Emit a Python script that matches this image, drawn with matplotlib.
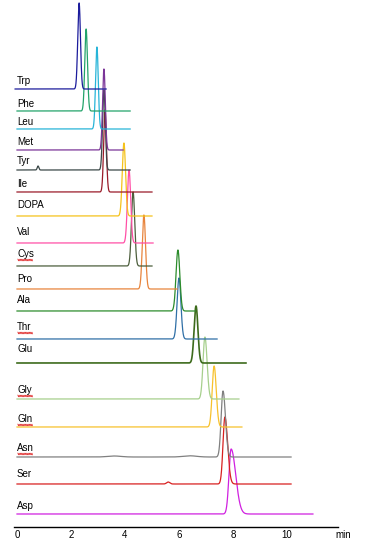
import numpy as np
import matplotlib
matplotlib.use("Agg")
from matplotlib import pyplot as plt

plt.rcParams['font.family'] = ['Liberation Sans', 'DejaVu Sans']

# amino acids, top to bottom
names = ["Trp", "Phe", "Leu", "Met", "Tyr", "Ile", "DOPA", "Val", "Cys", "Pro",
         "Ala", "Thr", "Glu", "Gly", "Gln", "Asn", "Ser", "Asp"]
# retention time of the main peak (min)
rt = [2.30, 2.56, 2.96, 3.22, 3.22, 3.26, 3.96, 4.15, 4.30, 4.70,
      5.96, 6.00, 6.63, 6.96, 7.30, 7.63, 7.70, 7.93]
# peak height (signal units)
height = [86, 82, 82, 81, 80, 82, 73, 73, 74, 74,
          61, 61, 57, 62, 61, 66, 67, 65]
# peak width, left / right sigma (min)
sig_l = [0.05, 0.05, 0.05, 0.05, 0.05, 0.05, 0.06, 0.06, 0.06, 0.06,
         0.07, 0.07, 0.07, 0.07, 0.07, 0.07, 0.07, 0.08]
sig_r = [0.05, 0.05, 0.05, 0.05, 0.05, 0.05, 0.06, 0.06, 0.06, 0.06,
         0.07, 0.07, 0.07, 0.08, 0.08, 0.09, 0.10, 0.17]
# recorded time range (min)
t_end = [3.30, 4.19, 4.19, 3.93, 4.19, 5.00, 5.00, 5.04, 5.00, 5.93,
         6.59, 7.41, 8.48, 8.22, 8.33, 10.15, 10.15, 10.96]
# small side peaks: (trace, time, height, width)
minor = [("Tyr", 0.78, 4, 0.03), ("Asn", 3.6, 1.0, 0.25), ("Asn", 6.4, 1.2, 0.25),
         ("Ser", 5.6, 2.0, 0.06)]

# stacking offset of each baseline
offset = [438, 416, 398, 377, 357, 335, 311, 284, 261, 238,
          216, 188, 164, 128, 100, 70, 43, 13]
label_dy = [8, 7, 7, 8, 9, 8, 11, 11, 12, 10, 11, 12, 14, 9, 8, 9, 10, 8]

colors = ["#1c1c9c", "#22a36a", "#27b4d8", "#7b3598", "#3b4848", "#9a1a28",
          "#f5c21b", "#ff4fa6", "#4c5e3c", "#e8843c", "#2c8c2c", "#2f6fa6",
          "#3d6b1c", "#a6cf8c", "#f7c12c", "#808080", "#d82020", "#d020e0"]
wavy = ["Cys", "Thr", "Gly", "Gln", "Asn"]

fig = plt.figure(figsize=(3.77, 5.45), dpi=100)
ax = fig.add_axes([14.3 / 377, 18 / 545, 324 / 377, 527 / 545])

for i, name in enumerate(names):
    t = np.linspace(0, t_end[i], 3000)
    if name == "Trp":
        t = np.linspace(-0.07, t_end[i], 3000)
    s = np.where(t < rt[i], sig_l[i], sig_r[i])
    y = height[i] * np.exp(-0.5 * ((t - rt[i]) / s) ** 2)
    for m in minor:
        if m[0] == name:
            y = y + m[2] * np.exp(-0.5 * ((t - m[1]) / m[3]) ** 2)
    lw = 1.2 if name == "Glu" else 0.9
    ax.plot(t, y + offset[i], color=colors[i], lw=lw, zorder=20 - i)
    ax.text(0.0, offset[i] + label_dy[i], name, fontsize=7, va="center", ha="left")
    if name in wavy:
        # spell-check squiggle under the label
        xs = np.linspace(0.03, 0.58, 24)
        ax.plot(xs, offset[i] + label_dy[i] - 6 + 0.9 * (-1) ** np.arange(24),
                color="#e03030", lw=0.5)

ax.set_xlim(-0.1, 11.9)
ax.set_ylim(0, 527)
for sp in ["left", "right", "top"]:
    ax.spines[sp].set_visible(False)
ax.spines["bottom"].set_linewidth(1.0)
ax.set_yticks([])
ax.set_xticks([0, 2, 4, 6, 8, 10])
ax.tick_params(axis="x", length=0, labelsize=7, pad=2)
ax.text(11.8, -3, "min", fontsize=7, va="top", ha="left")

fig.savefig("out.png", dpi=100)
